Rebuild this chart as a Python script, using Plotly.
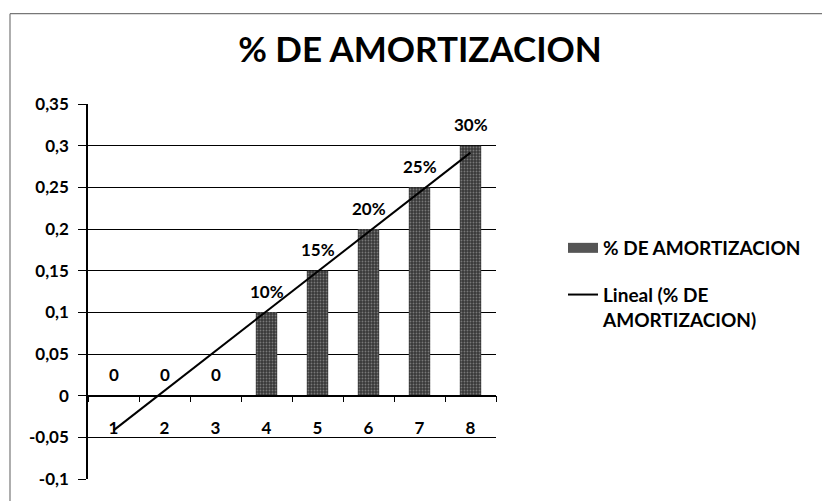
import numpy as np
import plotly.graph_objects as go

categories = ["1", "2", "3", "4", "5", "6", "7", "8"]
values = [0, 0, 0, 0.10, 0.15, 0.20, 0.25, 0.30]
labels = ["0", "0", "0", "10%", "15%", "20%", "25%", "30%"]
y_tickvals = [0.35, 0.3, 0.25, 0.2, 0.15, 0.1, 0.05, 0, -0.05, -0.1]
y_ticktext = ["0,35", "0,3", "0,25", "0,2", "0,15", "0,1", "0,05", "0", "-0,05", "-0,1"]

# linear trendline (least squares) of the series
xnum = np.arange(1, len(values) + 1)
slope, intercept = np.polyfit(xnum, values, 1)
trend = slope * xnum + intercept

FONT = "Lato"
OFF = 8  # browser body margin
W, H = 830 - OFF, 501 - OFF
L, T = 88 - OFF, 104 - OFF
R = 830 - 496
B = 501 - 482
ymin, ymax = -0.1, 0.35

fig = go.Figure()
fig.add_trace(go.Bar(
    x=categories, y=values, name="% DE AMORTIZACION",
    width=0.42,
    marker=dict(color="#4a4a4a", line=dict(width=0),
                pattern=dict(shape=".", bgcolor="#383838", fgcolor="#b8b8b8",
                             size=3, solidity=0.3)),
    showlegend=False,
))
# legend swatch for the bar series (wide stippled rectangle like the original)
fig.add_trace(go.Scatter(
    x=[None], y=[None], mode="lines", name="% DE AMORTIZACION",
    line=dict(color="#555555", width=11),
    legendgroup="a",
))
fig.add_trace(go.Scatter(
    x=categories, y=trend, mode="lines",
    name="Lineal (% DE<br>AMORTIZACION)",
    line=dict(color="black", width=2),
    legendgroup="b",
))

for i, (v, t) in enumerate(zip(values, labels)):
    fig.add_annotation(x=i, y=v, text=t, showarrow=False, yshift=21,
                       font=dict(family=FONT, size=17, color="black", weight="bold"))

def px_x(p):  # screen px -> paper
    return (p - OFF - L) / (W - L - R)

def px_y(p):
    return (H - B - (p - OFF)) / (H - T - B)

# outer chart border (scanned frame)
fig.add_shape(type="line", xref="paper", yref="paper",
              x0=px_x(10), x1=px_x(900), y0=px_y(13), y1=px_y(13),
              line=dict(color="#777777", width=1.2))
fig.add_shape(type="line", xref="paper", yref="paper",
              x0=px_x(10), x1=px_x(10), y0=px_y(13), y1=px_y(600),
              line=dict(color="#777777", width=1.2))

zero_pos = (0 - ymin) / (ymax - ymin)

fig.update_layout(
    width=W, height=H,
    margin=dict(l=L, r=R, t=T, b=B),
    paper_bgcolor="white", plot_bgcolor="white",
    separators=",.",
    title=dict(text="% DE AMORTIZACION", x=(420 - OFF) / W, xanchor="center",
               y=1 - (50 - OFF) / H, yanchor="middle",
               font=dict(family=FONT, size=35, color="black", weight="bold")),
    xaxis=dict(type="category", anchor="free", position=zero_pos,
               showline=True, linecolor="black", linewidth=1.5,
               ticks="outside", tickson="boundaries", ticklen=6,
               tickcolor="black", ticklabelstandoff=17,
               showgrid=False,
               tickfont=dict(family=FONT, size=17, color="black", weight="bold"),
               range=[-0.5, 7.5]),
    yaxis=dict(range=[ymin, ymax], tickvals=y_tickvals, ticktext=y_ticktext,
               showline=True, linecolor="black", linewidth=1.5,
               showgrid=True, gridcolor="black", gridwidth=1.2,
               zeroline=False,
               ticks="outside", ticklen=8, tickcolor="black",
               ticklabelstandoff=6,
               tickfont=dict(family=FONT, size=17, color="black", weight="bold")),
    showlegend=True,
    legend=dict(x=px_x(563), y=px_y(230), xanchor="left", yanchor="top",
                traceorder="grouped", tracegroupgap=19, valign="top",
                font=dict(family=FONT, size=19, color="black", weight="bold"),
                bgcolor="rgba(0,0,0,0)", itemwidth=30),
)

fig.write_html("out.html")
